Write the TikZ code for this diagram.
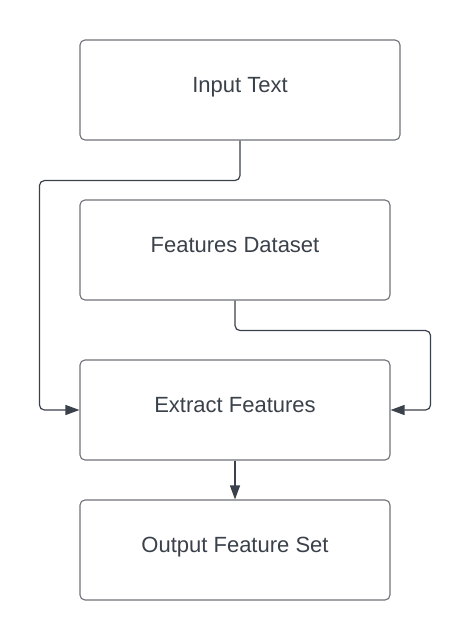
\documentclass[tikz,border=0pt]{standalone}
\usepackage{fontspec}
\setmainfont{Liberation Sans}
\usetikzlibrary{arrows.meta}
\definecolor{boxline}{RGB}{110,113,120}
\definecolor{ink}{RGB}{58,65,74}
\tikzset{
  stage/.style={draw=boxline,line width=1.1pt,rounded corners=5pt,
    minimum width=#1,minimum height=100pt,inner sep=0pt,
    text=ink,font=\fontsize{22}{26}\selectfont,
    text height=0.72em,text depth=0.3em},
  flow/.style={draw=ink,line width=1.2pt,rounded corners=5pt,
    -{Triangle[length=14pt,width=10pt]}}
}
\begin{document}
\begin{tikzpicture}[x=1pt,y=-1pt]
        \useasboundingbox (0,0) rectangle (471,640);
        \node (input text) [stage=320pt] at (240,90) {Input Text};
        \node (features dataset) [stage=310pt] at (235,250) {Features Dataset};
        \node (extract features) [stage=310pt] at (235,410) {Extract Features};
        \node (output set) [stage=310pt] at (235,550) {Output Feature Set};
        % side feeds into the extraction step
        \draw [flow]
          (input text.south)
          -- ++(0,40)
          -| ([xshift=-40pt]extract features.west)
          -- (extract features.west)
        ;
        \draw [flow]
          (features dataset.south)
          -- ++(0,30)
          -| ([xshift=40pt]extract features.east)
          -- (extract features.east)
        ;
        \draw [flow]
          (extract features)
          -- (output set)
        ;
      \end{tikzpicture}
\end{document}
